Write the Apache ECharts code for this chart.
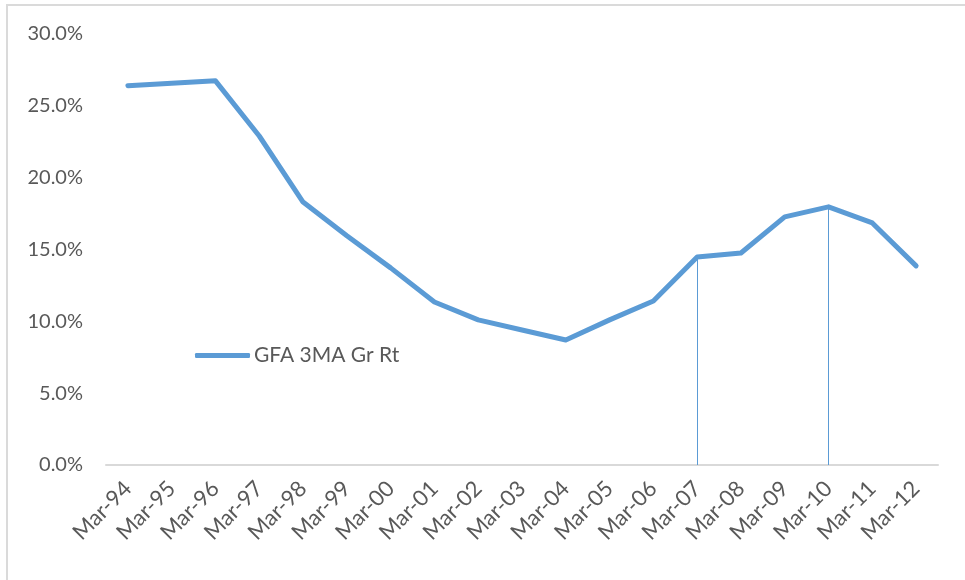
<!DOCTYPE html>
<html>
<head>
<meta charset="utf-8">
<script src="https://cdn.jsdelivr.net/npm/echarts@6/dist/echarts.min.js"></script>
<style>
  body { margin: 0; background: #fff; }
  #main { position: absolute; left: 0; top: 0; width: 965px; height: 580px; }
  /* light frame of the chart area, only top and left are in the crop */
  .frame { position: absolute; left: 6px; top: 4px; right: 0; bottom: 0;
           border-left: 2px solid #dadada; border-top: 2px solid #dadada; pointer-events: none; }
</style>
</head>
<body>
<div id="main"></div>
<div class="frame"></div>
<script>
// categories (March of each year)
const years = ['Mar-94', 'Mar-95', 'Mar-96', 'Mar-97', 'Mar-98', 'Mar-99', 'Mar-00', 'Mar-01', 'Mar-02', 'Mar-03',
  'Mar-04', 'Mar-05', 'Mar-06', 'Mar-07', 'Mar-08', 'Mar-09', 'Mar-10', 'Mar-11', 'Mar-12'];
// GFA 3MA growth rate, in %
const gfaGrowth = [26.4, 26.57, 26.74, 22.9, 18.3, 15.95, 13.72, 11.35, 10.1, 9.4,
  8.7, 10.1, 11.42, 14.48, 14.76, 17.27, 17.97, 16.85, 13.86];
// years with a drop line down to the axis
const dropYears = ['Mar-07', 'Mar-10'];
const seriesName = 'GFA 3MA Gr Rt';

const blue = '#5B9BD5';
const textColor = '#595959';
const font = 'Lato, "Open Sans", sans-serif';

const dom = document.getElementById('main');
const myChart = echarts.init(dom);

const dropLines = dropYears.map(y => {
  const v = gfaGrowth[years.indexOf(y)];
  return [{ coord: [y, v] }, { coord: [y, 0] }];
});

const option = {
  animation: false,
  grid: { left: 106, right: 27, top: 34, bottom: 115 },
  legend: {
    data: [{ name: seriesName, icon: 'roundRect' }],
    left: 195,
    top: 345,
    padding: 0,
    itemWidth: 55,
    itemHeight: 5,
    itemGap: 5,
    textStyle: { color: textColor, fontSize: 21, fontFamily: font, padding: [0, 0, 0, -1] }
  },
  xAxis: {
    type: 'category',
    data: years,
    boundaryGap: true,
    axisLine: { lineStyle: { color: '#d9d9d9', width: 2 } },
    axisTick: { show: false },
    axisLabel: { rotate: 45, margin: 20, color: textColor, fontSize: 22, fontFamily: font, interval: 0 }
  },
  yAxis: {
    type: 'value',
    min: 0,
    max: 30,
    interval: 5,
    splitLine: { show: false },
    axisLine: { show: false },
    axisTick: { show: false },
    axisLabel: {
      margin: 23, color: textColor, fontSize: 20, fontFamily: font,
      formatter: v => v.toFixed(1) + '%'
    }
  },
  series: [
    {
      name: seriesName,
      type: 'line',
      data: gfaGrowth,
      symbol: 'none',
      lineStyle: { color: blue, width: 5, cap: 'round', join: 'round' },
      itemStyle: { color: blue },
      markLine: {
        silent: true,
        symbol: ['none', 'none'],
        label: { show: false },
        lineStyle: { color: blue, width: 1, type: 'solid' },
        data: dropLines
      }
    }
  ]
};
myChart.setOption(option);
</script>
</body>
</html>
